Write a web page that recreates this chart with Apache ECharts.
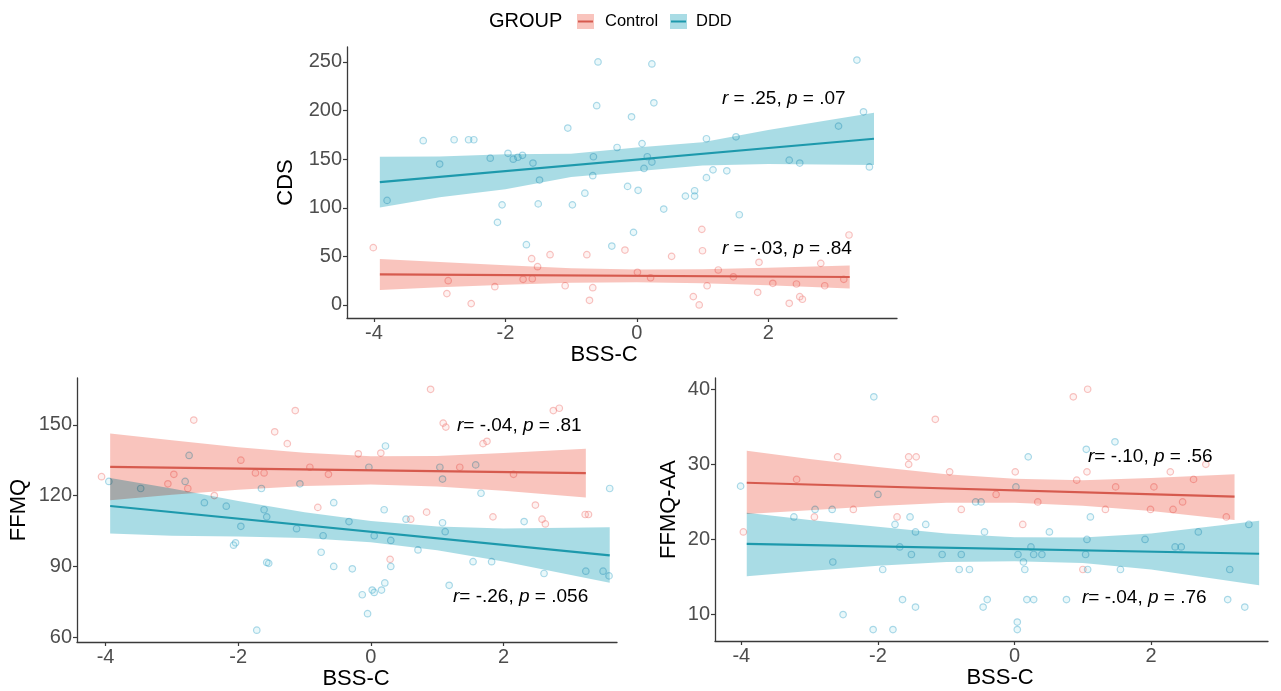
<!DOCTYPE html>
<html>
<head>
<meta charset="utf-8">
<script src="https://cdn.jsdelivr.net/npm/echarts@6/dist/echarts.min.js"></script>
<style>
html,body{margin:0;padding:0;background:#fff;}
#c{width:1281px;height:691px;}
</style>
</head>
<body>
<div id="c"></div>
<script>
// ---------- shared ----------
const groups = ['Control', 'DDD'];
const xName = 'BSS-C';
const xTicks = [-4, -2, 0, 2];

// ---------- Panel 1 : CDS ----------
const cdsYTicks = [0, 50, 100, 150, 200, 250];
const cdsControl = [[-4.01,59],[-1.60,47.6],[-1.32,51.7],[-0.76,51.7],[-1.51,39.4],[-2.87,25],[-1.73,26.4],[-1.59,27],[-2.89,11.7],[-2.52,1.4],[-2.16,18.8],[-1.09,19.8],[-0.67,17.8],[-0.72,4.8],[-0.18,56.5],[0.53,50],[0.99,77.8],[1.0,55.8],[1.86,43.9],[3.23,72],[2.80,42.8],[0.01,33.6],[0.21,28],[1.24,36],[1.47,29],[1.07,19.8],[2.07,22.3],[2.43,21.6],[2.86,19.8],[3.15,26.4],[1.84,13],[0.86,8.6],[0.95,0],[2.32,1.7],[2.48,8.5],[2.52,5.9]];
const cdsDDD = [[-0.59,250],[-0.61,205],[-1.05,182],[-3.25,169],[-2.78,170],[-2.56,170],[-2.48,170],[-0.30,162],[-2.23,151],[-1.96,156],[-1.88,150],[-1.81,152],[-1.74,154],[-3.0,145],[-1.58,146],[-0.66,152.5],[-1.48,128.5],[-0.67,133],[-3.80,107.6],[-2.05,103],[-1.50,104],[-0.98,103],[-0.79,115],[-2.12,85],[-1.68,62],[-0.38,60.6],[0.23,248],[3.35,252],[0.26,208],[-0.08,193.6],[3.45,198.7],[3.07,184],[0.08,166],[1.06,171],[1.51,173],[0.16,152.5],[0.23,147],[0.11,140.5],[2.32,149],[2.48,146],[3.54,142],[1.16,139],[1.37,138],[1.06,131],[-0.14,122],[0.02,118],[0.74,112],[0.88,112],[0.88,117.5],[0.41,98.7],[1.56,92.8],[-0.05,74.7]];
const cdsControlLineX = [-3.91, 3.24];
const cdsControlLineY = [31.5, 28.8];
const cdsControlBandX  = [-3.91, -3, -2, -1, 0, 1, 2, 3.24];
const cdsControlBandHi = [47.3, 44.2, 40.8, 37.9, 36.5, 36.8, 38.3, 40.6];
const cdsControlBandLo = [15.4, 18.2, 20.8, 22.9, 23.5, 22.4, 20.3, 17.0];
const cdsDDDLineX = [-3.91, 3.61];
const cdsDDDLineY = [126.4, 171];
const cdsDDDBandX  = [-3.91, -3, -2, -1, 0, 1, 2, 3.61];
const cdsDDDBandHi = [152.5, 152.8, 155, 155.6, 162, 167.5, 180, 197.7];
const cdsDDDBandLo = [100.4, 110.8, 119, 131.6, 137.5, 143.5, 145, 144];
const cdsLabels = ['{i|r} = .25, {i|p} = .07', '{i|r} = -.03, {i|p} = .84'];

// ---------- Panel 2 : FFMQ ----------
const ffmqYTicks = [60, 90, 120, 150];
const ffmqControl = [[-2.67,152],[-1.14,156],[-1.45,147],[-1.26,142],[-1.96,135],[-2.97,129],[-3.06,125],[-2.76,123],[-4.06,128],[-2.36,120],[-1.74,129.6],[-1.61,129.6],[-0.92,132],[-0.64,129],[-0.80,115],[0.90,165],[1.09,150.7],[1.13,149],[2.75,156],[2.84,157],[1.69,142],[1.75,143],[-0.19,137.7],[0.15,138],[1.34,132],[2.15,129],[2.48,116],[0.84,113],[0.60,110],[1.84,111],[2.58,110],[2.63,108],[3.23,112],[3.28,112],[0.29,93]];
const ffmqDDD = [[-3.95,126],[-3.47,123],[-2.51,117],[-2.18,115.5],[-1.65,123],[-1.61,114],[-1.57,111],[-1.96,107],[-1.12,106],[-0.72,103],[-0.56,117],[-2.04,100],[-2.07,99],[-0.75,96],[-1.57,91.7],[-1.54,91.3],[-0.56,90],[-1.72,63],[-0.33,109],[0.22,141],[3.60,123],[1.66,121],[0.20,114],[0.53,110],[1.08,108.5],[2.31,109],[1.12,104.7],[0.05,103],[0.30,101],[0.71,97],[1.54,92],[1.82,92],[2.61,87],[3.24,88],[3.50,88],[3.59,86],[0.30,90],[-0.28,89],[0.21,83],[0.16,80],[0.05,79],[0.02,80],[-0.13,78],[1.18,82],[-0.05,70],[-2.74,137],[-2.80,126],[-1.07,125],[-0.03,132],[1.58,133],[1.04,132],[1.08,127]];
const ffmqControlLineX = [-3.93, 3.24];
const ffmqControlLineY = [132.2, 129.5];
const ffmqControlBandX  = [-3.93, -3, -2, -1, 0, 1, 2, 3.24];
const ffmqControlBandHi = [146.3, 143.4, 140.5, 138.1, 136.7, 136.8, 138, 139.8];
const ffmqControlBandLo = [118.0, 120.4, 122.5, 124.1, 124.7, 123.8, 122, 119.2];
const ffmqDDDLineX = [-3.93, 3.60];
const ffmqDDDLineY = [115.6, 94.7];
const ffmqDDDBandX  = [-3.93, -3, -2, -1, 0, 1, 2, 3.60];
const ffmqDDDBandHi = [127.4, 123, 117.7, 113, 109.2, 106.9, 106.1, 106.6];
const ffmqDDDBandLo = [103.9, 103, 102.7, 102, 100.2, 96.9, 92.1, 83.1];
const ffmqLabels = ['{i|r}= -.04, {i|p} = .81', '{i|r}= -.26, {i|p} = .056'];

// ---------- Panel 3 : FFMQ-AA ----------
const aaYTicks = [10, 20, 30, 40];
const aaControl = [[-1.16,36],[-2.59,31],[-1.55,31],[-1.44,31],[-1.55,30],[-0.95,29],[-3.19,28],[-0.78,24],[-2.36,24],[-2.93,23],[-1.72,23],[-3.97,21],[0.86,39],[1.07,40],[0.01,29],[1.06,29],[2.28,29],[2.80,30],[0.91,27.9],[-0.27,26],[0.34,25],[1.48,27],[2.04,27],[2.62,28],[2.46,25],[1.33,24],[1.99,24],[2.32,24],[3.10,23],[0.12,22],[1.0,16]];
const aaDDD = [[-2.06,39],[-4.01,27.1],[-3.23,23],[-2.92,24],[-2.67,24],[-1.75,22],[-1.53,23],[-1.30,22],[-1.45,21],[-1.68,19],[-2.0,26],[-2.66,17],[-1.51,18],[-1.06,18],[-0.78,18],[-1.93,16],[-0.81,16],[-0.66,16],[-1.64,12],[-1.45,11],[-2.51,10],[-2.07,8],[-1.78,8],[-0.44,21],[-0.40,12],[-0.46,11],[1.47,33],[1.05,32],[0.20,31],[1.11,23],[0.51,21],[2.69,21],[3.43,22],[0.24,19],[1.06,20],[1.91,20],[2.35,19],[2.44,19],[0.05,18],[0.28,18],[0.40,18],[1.04,18],[0.13,17],[0.15,16],[1.07,16],[1.55,16],[3.15,16],[0.18,12],[0.28,12],[0.76,12],[3.12,12],[3.37,11],[0.04,9],[0.04,8],[0.02,27],[-0.57,25],[-0.49,25]];
const aaControlLineX = [-3.92, 3.22];
const aaControlLineY = [27.55, 25.7];
const aaControlBandX  = [-3.92, -3, -2, -1, 0, 1, 2, 3.22];
const aaControlBandHi = [31.8, 30.7, 29.65, 28.7, 28.1, 27.9, 28.2, 28.7];
const aaControlBandLo = [23.4, 23.9, 24.45, 24.9, 24.9, 24.5, 23.8, 22.6];
const aaDDDLineX = [-3.92, 3.58];
const aaDDDLineY = [19.4, 18.1];
const aaDDDBandX  = [-3.92, -3, -2, -1, 0, 1, 2, 3.58];
const aaDDDBandHi = [23.55, 22.6, 21.7, 20.8, 20.3, 20.25, 20.8, 22.5];
const aaDDDBandLo = [15.1, 15.8, 16.5, 17.0, 17.1, 16.85, 16.0, 13.9];
const aaLabels = ['{i|r}= -.10, {i|p} = .56', '{i|r}= -.04, {i|p} = .76'];

// ---------- styling ----------
const FONT = '"Liberation Sans", Arial, Helvetica, sans-serif';
const COL = {
  Control: {band:'#F9C4BD', line:'#D65A4E', ptFill:'rgba(248,118,109,0.12)', ptBorder:'rgba(240,120,115,0.55)'},
  DDD:     {band:'#A9DCE5', line:'#1D99AC', ptFill:'rgba(0,170,200,0.10)',  ptBorder:'rgba(70,170,205,0.55)'}
};

const panels = [
  {name:'CDS', grid:{left:347, top:47, width:550, height:271}, xMin:-4.41, xMax:3.96, yMin:-13.4, yMax:265.4, yTicks:cdsYTicks, yGap:50, xGap:26,
   ctrl:cdsControl, ddd:cdsDDD,
   cLX:cdsControlLineX, cLY:cdsControlLineY, cBX:cdsControlBandX, cBH:cdsControlBandHi, cBL:cdsControlBandLo,
   dLX:cdsDDDLineX, dLY:cdsDDDLineY, dBX:cdsDDDBandX, dBH:cdsDDDBandHi, dBL:cdsDDDBandLo,
   labels:cdsLabels, labelPos:[[722,99],[722,249]], xNamePad:[0,36,0,0]},
  {name:'FFMQ', grid:{left:77, top:378, width:540, height:264}, xMin:-4.43, xMax:3.71, yMin:58.0, yMax:169.8, yTicks:ffmqYTicks, yGap:47, xGap:20,
   ctrl:ffmqControl, ddd:ffmqDDD,
   cLX:ffmqControlLineX, cLY:ffmqControlLineY, cBX:ffmqControlBandX, cBH:ffmqControlBandHi, cBL:ffmqControlBandLo,
   dLX:ffmqDDDLineX, dLY:ffmqDDDLineY, dBX:ffmqDDDBandX, dBH:ffmqDDDBandHi, dBL:ffmqDDDBandLo,
   labels:ffmqLabels, labelPos:[[457,425.5],[453,597]], xNamePad:[0,0,0,18]},
  {name:'FFMQ-AA', grid:{left:715, top:378, width:553, height:263}, xMin:-4.385, xMax:3.71, yMin:6.48, yMax:41.5, yTicks:aaYTicks, yGap:35, xGap:21,
   ctrl:aaControl, ddd:aaDDD,
   cLX:aaControlLineX, cLY:aaControlLineY, cBX:aaControlBandX, cBH:aaControlBandHi, cBL:aaControlBandLo,
   dLX:aaDDDLineX, dLY:aaDDDLineY, dBX:aaDDDBandX, dBH:aaDDDBandHi, dBL:aaDDDBandLo,
   labels:aaLabels, labelPos:[[1088,457],[1082,598]], xNamePad:[0,0,0,17]}
];

const AXIS_COLOR = '#3a3a3a';
const TICK_LABEL_COLOR = '#4d4d4d';

function bandSeries(gi, xs, hi, lo, color) {
  return {
    type:'custom', xAxisIndex:gi, yAxisIndex:gi, z:3, silent:true, clip:false,
    data:[[xs[0], hi[0]]],
    renderItem:function(params, api){
      const pts = [];
      for (let i = 0; i < xs.length; i++) pts.push(api.coord([xs[i], hi[i]]));
      for (let i = xs.length - 1; i >= 0; i--) pts.push(api.coord([xs[i], lo[i]]));
      return {type:'polygon', name:'ribbon', shape:{points:pts}, style:{fill:color, blend:'multiply'}};
    }
  };
}
function lineSeries(gi, xs, ys, color) {
  return {
    type:'line', xAxisIndex:gi, yAxisIndex:gi, z:4, silent:true, showSymbol:false, symbol:'none',
    data: xs.map((x,i)=>[x, ys[i]]),
    lineStyle:{color:color, width:2.2}
  };
}
function scatterSeries(gi, name, data) {
  return {
    type:'scatter', name:name, xAxisIndex:gi, yAxisIndex:gi, z:2, silent:true,
    symbol:'circle', symbolSize:6.5, data:data,
    itemStyle:{color:COL[name].ptFill, borderColor:COL[name].ptBorder, borderWidth:1.2}
  };
}

const grids = [], xAxes = [], yAxes = [], series = [], graphics = [];
panels.forEach((p, gi) => {
  grids.push(Object.assign({containLabel:false}, p.grid));
  xAxes.push({
    type:'value', gridIndex:gi, min:p.xMin, max:p.xMax,
    name:xName, nameLocation:'middle', nameGap:p.xGap,
    nameTextStyle:{fontFamily:FONT, fontSize:22, color:'#000', padding:p.xNamePad, verticalAlign:'top'},
    axisLine:{show:true, onZero:false, lineStyle:{color:AXIS_COLOR, width:1.3}},
    axisTick:{show:true, length:4, customValues:xTicks, lineStyle:{color:AXIS_COLOR, width:1.2}},
    axisLabel:{customValues:xTicks, fontFamily:FONT, fontSize:20, color:TICK_LABEL_COLOR, margin:5},
    splitLine:{show:false}
  });
  yAxes.push({
    type:'value', gridIndex:gi, min:p.yMin, max:p.yMax,
    name:p.name, nameLocation:'middle', nameGap:p.yGap, nameRotate:90,
    nameTextStyle:{fontFamily:FONT, fontSize:22, color:'#000'},
    axisLine:{show:true, onZero:false, lineStyle:{color:AXIS_COLOR, width:1.3}},
    axisTick:{show:true, length:4, customValues:p.yTicks, lineStyle:{color:AXIS_COLOR, width:1.2}},
    axisLabel:{customValues:p.yTicks, fontFamily:FONT, fontSize:20, color:TICK_LABEL_COLOR, margin:5},
    splitLine:{show:false}
  });
  series.push(scatterSeries(gi, 'Control', p.ctrl));
  series.push(scatterSeries(gi, 'DDD', p.ddd));
  series.push(bandSeries(gi, p.cBX, p.cBH, p.cBL, COL.Control.band));
  series.push(bandSeries(gi, p.dBX, p.dBH, p.dBL, COL.DDD.band));
  series.push(lineSeries(gi, p.cLX, p.cLY, COL.Control.line));
  series.push(lineSeries(gi, p.dLX, p.dLY, COL.DDD.line));
  p.labels.forEach((t, k) => {
    graphics.push({
      type:'text', x:p.labelPos[k][0], y:p.labelPos[k][1], z:10,
      style:{text:t, fill:'#000', fontFamily:FONT, fontSize:19, align:'left', verticalAlign:'middle',
        rich:{i:{fontStyle:'italic', fontFamily:FONT, fontSize:19, fill:'#000'}}}
    });
  });
});

// legend (drawn as graphics)
graphics.push({type:'text', x:489, y:21.5, style:{text:'GROUP', fill:'#000', fontFamily:FONT, fontSize:20, verticalAlign:'middle'}});
const legendItems = [
  {g:groups[0], bx:577, tx:605},
  {g:groups[1], bx:670, tx:696}
];
legendItems.forEach(li => {
  graphics.push({type:'rect', shape:{x:li.bx, y:14, width:17, height:15}, style:{fill:COL[li.g].band}});
  graphics.push({type:'line', shape:{x1:li.bx+1, y1:21.5, x2:li.bx+16, y2:21.5}, style:{stroke:COL[li.g].line, lineWidth:2}});
  graphics.push({type:'text', x:li.tx, y:21.5, style:{text:li.g, fill:'#000', fontFamily:FONT, fontSize:16.5, verticalAlign:'middle'}});
});

const chart = echarts.init(document.getElementById('c'), null, {renderer:'canvas'});
chart.setOption({
  animation:false,
  backgroundColor:'#fff',
  grid:grids, xAxis:xAxes, yAxis:yAxes, series:series, graphic:graphics
});

// ribbons are multiplied over what lies beneath (as overlapping ggplot ribbons look)
function applyRibbonBlend() {
  const zr = chart.getZr();
  const bandFills = [COL.Control.band, COL.DDD.band];
  zr.storage.getDisplayList(true).forEach(el => {
    if (el.type === 'polygon' && el.style && bandFills.indexOf(el.style.fill) >= 0) {
      el.style.blend = 'multiply';
      el.markRedraw();
    }
  });
  zr.refreshImmediately();
}
applyRibbonBlend();
</script>
</body>
</html>
